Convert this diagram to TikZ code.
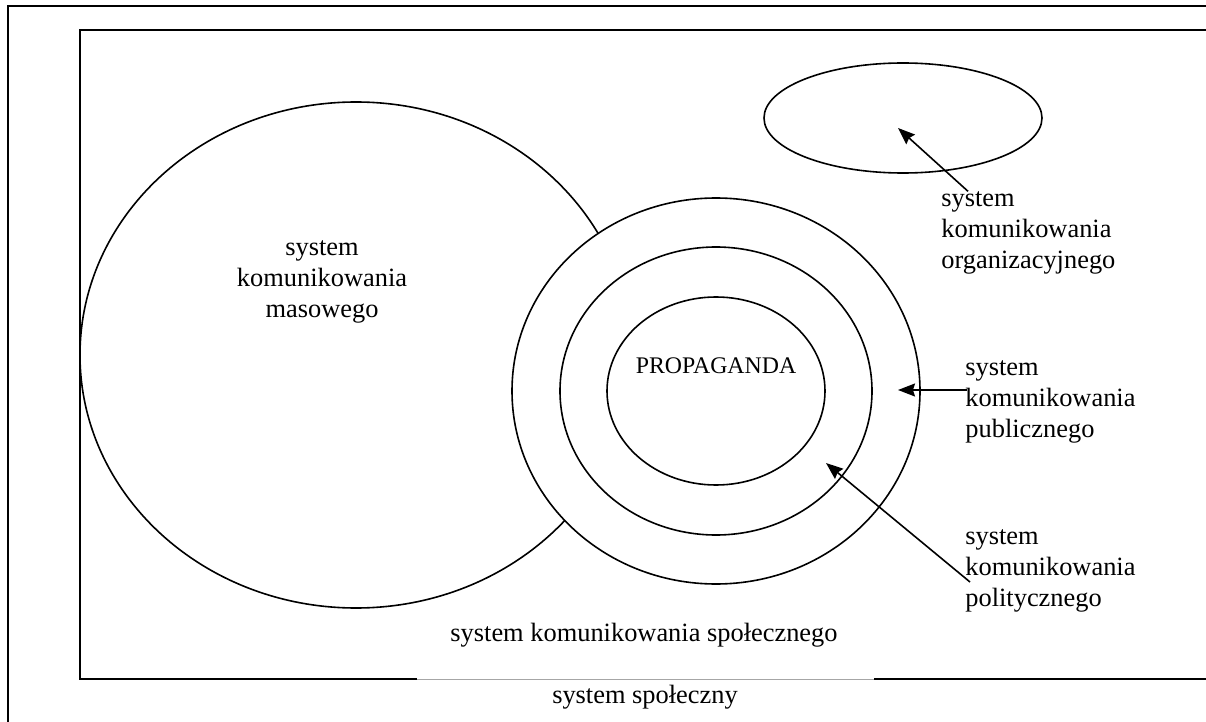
\documentclass[tikz,border=0pt]{standalone}
\usepackage{fontspec}
\setmainfont{Liberation Serif}
\usepackage{tikz}
\usetikzlibrary{arrows.meta}
\usetikzlibrary{shapes.geometric}
\usetikzlibrary{positioning}
\tikzstyle{ring} = [ellipse, draw, line width=0.8pt, inner sep=0pt]
\tikzstyle{frame} = [line width=1pt]
\tikzstyle{systext} = [inner sep=0pt, align=center, font=\fontsize{13.2}{15.5}\selectfont]
\tikzstyle{linetext} = [inner sep=0pt, anchor=base, font=\fontsize{13.2}{15.5}\selectfont]
\tikzstyle{sidetext} = [inner sep=0pt, align=left, anchor=west, font=\fontsize{13.2}{15.5}\selectfont]
\tikzstyle{arrow} = [line width=0.8pt, -{Stealth[length=8.5pt, width=6.5pt, inset=1pt]}]

\begin{document}
\begin{tikzpicture}[x=0.5pt, y=-0.5pt]
\useasboundingbox (0,0) rectangle (1206,722);
% frames
\draw[frame] (1206,6) -- (8,6) -- (8,722);
\draw[frame] (1206,30) -- (80,30) -- (80,679) -- (417,679);
\draw[frame] (874,679) -- (1206,679);
\draw[gray!70, line width=0.4pt] (417,679) -- (874,679);

% circles
\node[ring, minimum width=276pt, minimum height=253pt] (masowy) at (356,355) {};
\node[ring, fill=white, minimum width=204pt, minimum height=193pt] (publiczny) at (716,391) {};
\node[ring, fill=white, minimum width=156pt, minimum height=144pt] (polityczny) at (716,391) {};
\node[ring, fill=white, minimum width=109pt, minimum height=94pt] (propaganda) at (716,391) {};
\node[ring, minimum width=139pt, minimum height=55pt] (organizacyjny) at (903,118) {};

% texts
\node[systext] (masText) at (322,282) {system\\komunikowania\\masowego};
\node[inner sep=0pt, font=\fontsize{11.9}{14}\selectfont] (propText) at (716,366) {PROPAGANDA};
\node[linetext] (spolText) at (644,641) {system komunikowania społecznego};
\node[linetext] (sysText) at (645,703) {system społeczny};
\node[sidetext] (orgText) at (941,233) {system\\komunikowania\\organizacyjnego};
\node[sidetext] (pubText) at (965,402) {system\\komunikowania\\publicznego};
\node[sidetext] (polText) at (965,571) {system\\komunikowania\\politycznego};

% arrows
\coordinate (orgTip) at (898,128);
\coordinate (pubTip) at (898,390);
\coordinate (polTip) at (826,463);
\draw[arrow] ([xshift=13.5pt]orgText.north west) -- (orgTip);
\draw[arrow] ([xshift=1pt, yshift=6pt]pubText.west) -- (pubTip);
\draw[arrow] ([xshift=2.5pt, yshift=-5.5pt]polText.west) -- (polTip);
\end{tikzpicture}
\end{document}
